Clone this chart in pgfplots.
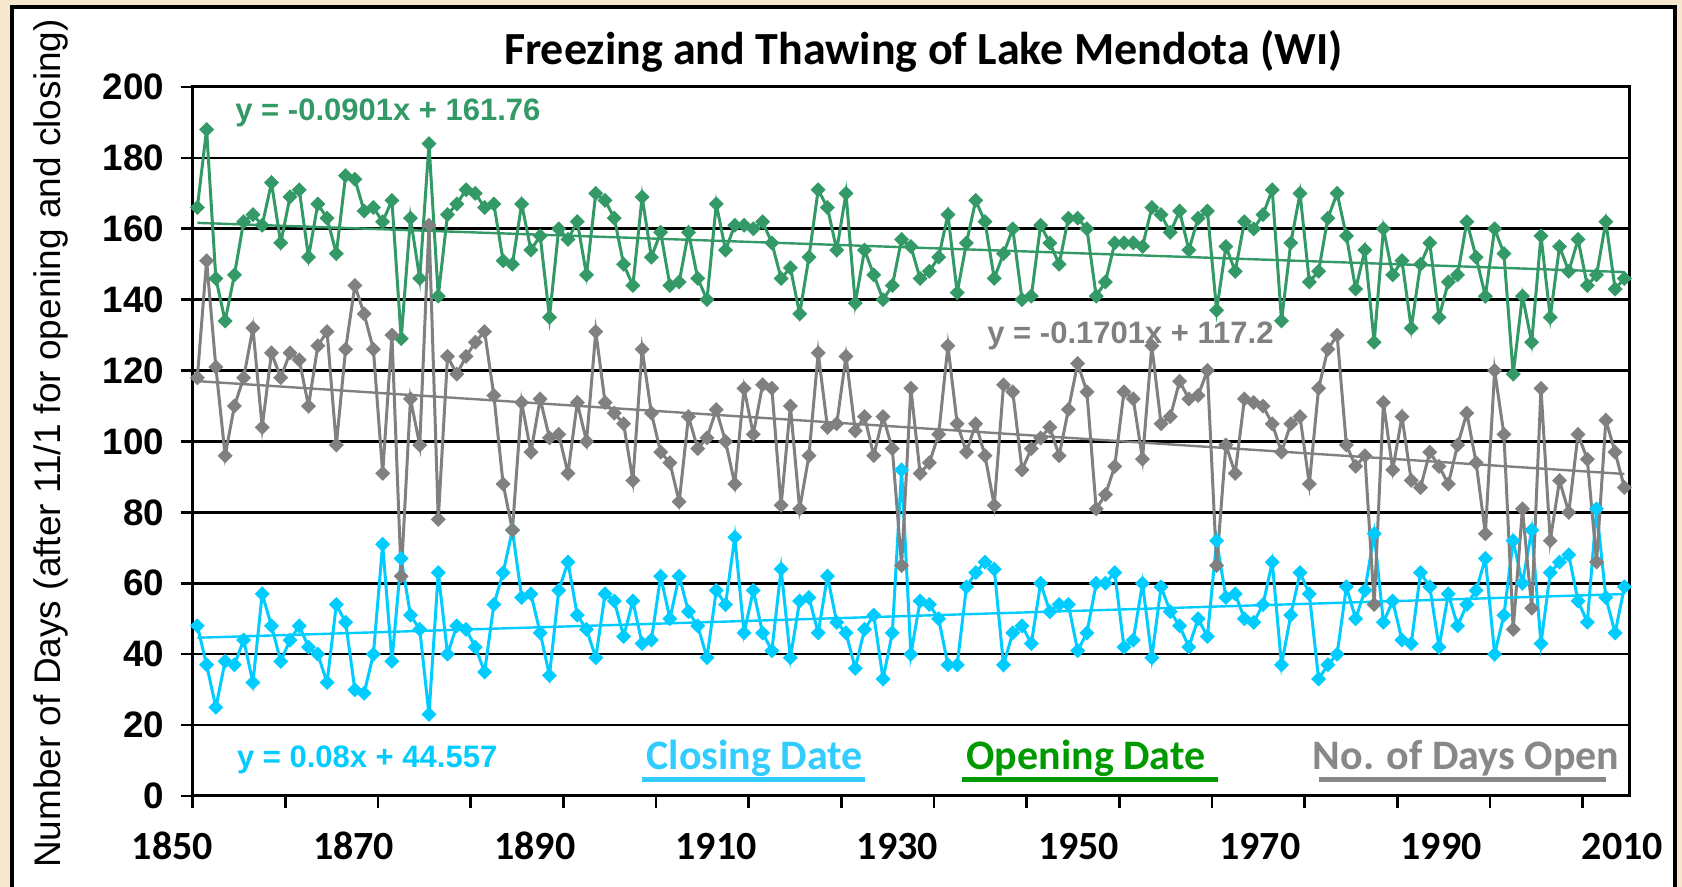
\documentclass[border=0pt]{standalone}
\usepackage{pgfplots}
\pgfplotsset{compat=1.18}
\usepackage{pgfplotstable}
\usepackage{fontspec}
\setmainfont{Liberation Sans}
\newfontfamily\calib{Carlito}

\definecolor{parch}{RGB}{246,232,204}
\definecolor{opengreen}{RGB}{51,153,102}
\definecolor{closecyan}{RGB}{0,204,255}
\definecolor{daysgrey}{RGB}{128,128,128}
\definecolor{legcyan}{RGB}{51,204,255}
\definecolor{leggreen}{RGB}{0,153,0}
\definecolor{leggrey}{RGB}{136,136,136}

% winter index, closing date, opening date, days open (days after 1 Nov)
\pgfplotstableread{
i close open days
0 48 166 118
1 37 188 151
2 25 146 121
3 38 134 96
4 37 147 110
5 44 162 118
6 32 164 132
7 57 161 104
8 48 173 125
9 38 156 118
10 44 169 125
11 48 171 123
12 42 152 110
13 40 167 127
14 32 163 131
15 54 153 99
16 49 175 126
17 30 174 144
18 29 165 136
19 40 166 126
20 71 162 91
21 38 168 130
22 67 129 62
23 51 163 112
24 47 146 99
25 23 184 161
26 63 141 78
27 40 164 124
28 48 167 119
29 47 171 124
30 42 170 128
31 35 166 131
32 54 167 113
33 63 151 88
34 75 150 75
35 56 167 111
36 57 154 97
37 46 158 112
38 34 135 101
39 58 160 102
40 66 157 91
41 51 162 111
42 47 147 100
43 39 170 131
44 57 168 111
45 55 163 108
46 45 150 105
47 55 144 89
48 43 169 126
49 44 152 108
50 62 159 97
51 50 144 94
52 62 145 83
53 52 159 107
54 48 146 98
55 39 140 101
56 58 167 109
57 54 154 100
58 73 161 88
59 46 161 115
60 58 160 102
61 46 162 116
62 41 156 115
63 64 146 82
64 39 149 110
65 55 136 81
66 56 152 96
67 46 171 125
68 62 166 104
69 49 154 105
70 46 170 124
71 36 139 103
72 47 154 107
73 51 147 96
74 33 140 107
75 46 144 98
76 92 157 65
77 40 155 115
78 55 146 91
79 54 148 94
80 50 152 102
81 37 164 127
82 37 142 105
83 59 156 97
84 63 168 105
85 66 162 96
86 64 146 82
87 37 153 116
88 46 160 114
89 48 140 92
90 43 141 98
91 60 161 101
92 52 156 104
93 54 150 96
94 54 163 109
95 41 163 122
96 46 160 114
97 60 141 81
98 60 145 85
99 63 156 93
100 42 156 114
101 44 156 112
102 60 155 95
103 39 166 127
104 59 164 105
105 52 159 107
106 48 165 117
107 42 154 112
108 50 163 113
109 45 165 120
110 72 137 65
111 56 155 99
112 57 148 91
113 50 162 112
114 49 160 111
115 54 164 110
116 66 171 105
117 37 134 97
118 51 156 105
119 63 170 107
120 57 145 88
121 33 148 115
122 37 163 126
123 40 170 130
124 59 158 99
125 50 143 93
126 58 154 96
127 74 128 54
128 49 160 111
129 55 147 92
130 44 151 107
131 43 132 89
132 63 150 87
133 59 156 97
134 42 135 93
135 57 145 88
136 48 147 99
137 54 162 108
138 58 152 94
139 67 141 74
140 40 160 120
141 51 153 102
142 72 119 47
143 60 141 81
144 75 128 53
145 43 158 115
146 63 135 72
147 66 155 89
148 68 148 80
149 55 157 102
150 49 144 95
151 81 147 66
152 56 162 106
153 46 143 97
154 59 146 87
}\ice

\begin{document}
\begin{tikzpicture}
\useasboundingbox (0pt,0pt) rectangle (841pt,443.5pt);
% parchment backdrop and white chart panel
\fill[parch] (0pt,0pt) rectangle (841pt,443.5pt);
\draw[line width=2pt, fill=white] (6pt,-10pt) rectangle (837.25pt,440pt);

\node[font=\calib\bfseries\fontsize{23}{26}\selectfont] at (461.75pt,418pt)
  {Freezing and Thawing of Lake Mendota (WI)};
\node[rotate=90, font=\fontsize{18.5}{20}\selectfont] at (25.5pt,221.75pt)
  {Number of Days (after 11/1 for opening and closing)};

\begin{axis}[
  at={(96.35pt,45.5pt)}, anchor=south west,
  scale only axis, width=718.15pt, height=354.5pt,
  xmin=-0.5, xmax=154.5, ymin=0, ymax=200,
  clip=false,
  axis line style={line width=1.5pt, black},
  ymajorgrids, grid style={line width=1.3pt, black},
  ytick={0,20,...,200},
  xtick={-0.5,9.5,...,149.5},
  xticklabels={,,},
  tick align=outside, tick pos=left,
  major tick style={line width=1.3pt, black},
  major tick length=6pt,
  yticklabel style={font=\bfseries\fontsize{18.4}{20}\selectfont, inner sep=0pt, anchor=east, xshift=-8pt},
  /pgf/number format/assume math mode=true,
]
\addplot[closecyan, line width=1.5pt, mark=square*, mark size=1.9pt,
  mark options={rotate=45, solid}] table[x=i, y=close] {\ice};
\addplot[opengreen, line width=1.5pt, mark=square*, mark size=1.9pt,
  mark options={rotate=45, solid}] table[x=i, y=open] {\ice};
\addplot[daysgrey, line width=1.5pt, mark=square*, mark size=1.9pt,
  mark options={rotate=45, solid}] table[x=i, y=days] {\ice};

% linear trends (x counted from 1)
\addplot[closecyan, line width=1.2pt, no marks] coordinates {(0,44.637) (154,56.957)};
\addplot[opengreen, line width=1.2pt, no marks] coordinates {(0,161.670) (154,147.795)};
\addplot[daysgrey, line width=1.2pt, no marks] coordinates {(0,117.030) (154,90.835)};

% year labels
\begin{scope}[every node/.style={font=\calib\bfseries\fontsize{20}{22}\selectfont, anchor=base, yshift=-32pt}]
\node at (axis cs:-2.69,0) {1850};
\node at (axis cs:16.87,0) {1870};
\node at (axis cs:36.43,0) {1890};
\node at (axis cs:55.99,0) {1910};
\node at (axis cs:75.55,0) {1930};
\node at (axis cs:95.11,0) {1950};
\node at (axis cs:114.67,0) {1970};
\node at (axis cs:134.23,0) {1990};
\node at (axis cs:153.79,0) {2010};
\end{scope}
\end{axis}

% trend equations
\begin{scope}[every node/.style={font=\bfseries\fontsize{15.5}{17}\selectfont, anchor=west, inner sep=0pt}]
\node[text=opengreen] at (117.5pt,387pt) {y = -0.0901x + 161.76};
\node[text=daysgrey] at (493.5pt,275.5pt) {y = -0.1701x + 117.2};
\node[text=closecyan] at (118.3pt,63.5pt) {y = 0.08x + 44.557};
\end{scope}

% series captions with underlines
\begin{scope}[every node/.style={font=\calib\bfseries\fontsize{21}{23}\selectfont, anchor=base, inner sep=0pt}]
\node[text=legcyan] at (377.3pt,58.5pt) {Closing Date};
\node[text=leggreen] at (543pt,58.5pt) {Opening Date};
\node[text=leggrey] at (733pt,58.5pt) {No. of Days Open};
\end{scope}
\draw[legcyan, line width=2.5pt] (320.9pt,53.85pt) -- (432.65pt,53.85pt);
\draw[leggreen, line width=2.5pt] (480.9pt,53.85pt) -- (608.8pt,53.85pt);
\draw[leggrey, line width=2.5pt] (659.5pt,53.85pt) -- (803pt,53.85pt);
\end{tikzpicture}
\end{document}
